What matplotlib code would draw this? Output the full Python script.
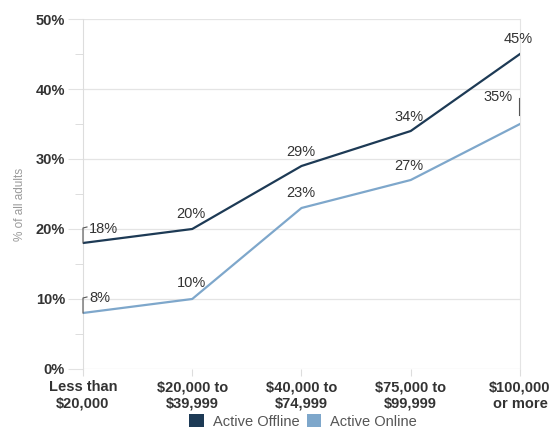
import matplotlib
matplotlib.use("Agg")
import matplotlib.pyplot as plt
from matplotlib.patches import Patch
from matplotlib.ticker import MultipleLocator, FuncFormatter
from matplotlib.transforms import Affine2D

categories = ["Less than\n$20,000", "$20,000 to\n$39,999", "$40,000 to\n$74,999", "$75,000 to\n$99,999", "$100,000\nor more"]
offline = [18, 20, 29, 34, 45]
online = [8, 10, 23, 27, 35]
series_names = ["Active Offline", "Active Online"]

c_off = "#1d3a55"
c_on = "#7ea7cb"
txt = "#333333"

plt.rcParams['font.family'] = ['Liberation Sans', 'DejaVu Sans']

fig = plt.figure(figsize=(5.51, 4.30), dpi=100)
ax = fig.add_axes([0.1506, 0.1419, 0.7931, 0.8139])

x = list(range(len(categories)))
ax.plot(x, offline, color=c_off, lw=1.6, solid_joinstyle='round', zorder=3)
ax.plot(x, online, color=c_on, lw=1.6, solid_joinstyle='round', zorder=3)

ax.set_xlim(0, len(categories) - 1)
ax.set_ylim(0, 50)
ax.yaxis.set_major_locator(MultipleLocator(10))
ax.yaxis.set_minor_locator(MultipleLocator(5))
ax.yaxis.set_major_formatter(FuncFormatter(lambda v, p: f"{int(v)}%"))
ax.set_xticks(x)
ax.set_xticklabels(categories, fontsize=10.5, fontweight='bold', color=txt, linespacing=1.25)
for lab in ax.get_yticklabels():
    lab.set_fontweight('bold')
ax.tick_params(axis='y', which='major', length=11, color='#e2e2e2', labelsize=10.5, labelcolor=txt, pad=2)
ax.tick_params(axis='y', which='minor', length=6, color='#d8d8d8')
ax.tick_params(axis='x', length=5, color='#dddddd', pad=3)

ax.grid(axis='y', which='major', color='#e4e4e4', lw=0.9)
for s in ['top', 'bottom']:
    ax.spines[s].set_visible(False)
ax.spines['left'].set_color('#dddddd')
ax.spines['right'].set_color('#e4e4e4')

ax.set_ylabel("% of all adults", fontsize=8.5, color='#9a9a9a', labelpad=8)
ax.yaxis.set_label_coords(-0.13, 0.47)

# label offsets in pixels (dx, dy)
off_offsets = [(20, 14), (-1, 15), (-1, 14), (-2, 14), (-2, 15)]
on_offsets = [(17, 15), (-1, 16), (-1, 15), (-2, 14), (-22, 27)]


def leader(i, v, pts):
    px, py = ax.transData.transform((i, v))
    tr = Affine2D().translate(px, py)
    xs = [p[0] for p in pts]
    ys = [p[1] for p in pts]
    ax.plot(xs, ys, color='#555555', lw=0.8, transform=tr, clip_on=False, zorder=4)


def label(vals, offsets):
    for i, (v, (dx, dy)) in enumerate(zip(vals, offsets)):
        ax.annotate(f"{v}%", xy=(i, v), xytext=(dx, dy), textcoords='offset pixels',
                    ha='center', va='center', fontsize=10.5, color=txt, zorder=4)


label(offline, off_offsets)
label(online, on_offsets)
leader(0, offline[0], [(0, 0), (0, 15), (4, 16)])
leader(0, online[0], [(0, 0), (0, 15), (4, 16)])
leader(4, online[4], [(-1, 9), (-1, 26)])

handles = [Patch(facecolor=c_off), Patch(facecolor=c_on)]
fig.legend(handles, series_names, loc='center', bbox_to_anchor=(0.55, 0.02), ncol=2,
           frameon=False, fontsize=10.5, handlelength=1.0, handleheight=1.0,
           handletextpad=0.6, columnspacing=0.5, labelcolor='#555555',
           borderpad=0, borderaxespad=0)

fig.savefig("out.png", dpi=100)
